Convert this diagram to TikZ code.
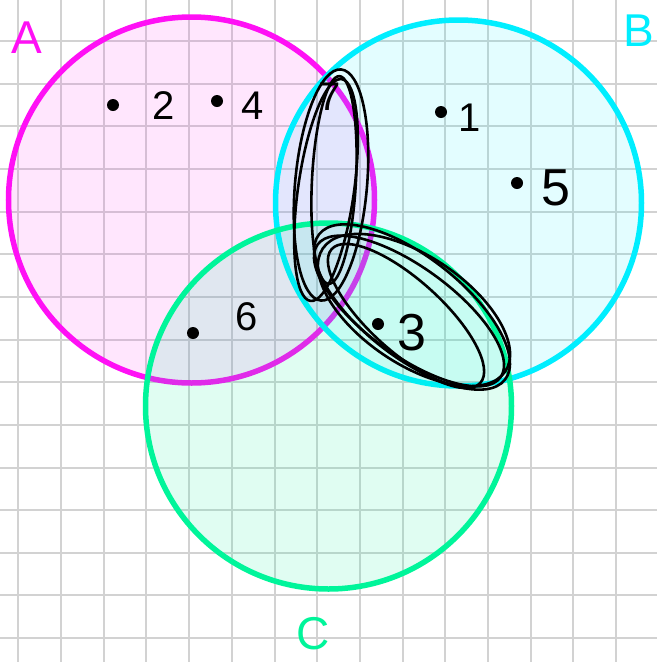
\documentclass[tikz,border=0pt]{standalone}
\usepackage{fontspec}
\setmainfont{Liberation Sans}
\definecolor{gridc}{HTML}{D2D2D2}
\definecolor{setA}{HTML}{FF10F5}
\definecolor{setB}{HTML}{00EEFF}
\definecolor{setC}{HTML}{00F59A}
\begin{document}
\begin{tikzpicture}[x=1pt,y=-1pt,
  gridline/.style={draw=gridc,line width=2pt},
  setcircle/.style={circle,inner sep=0pt,minimum size=366pt,line width=5.5pt},
  elemdot/.style={circle,fill=black,inner sep=0pt,minimum size=12pt},
  elemlbl/.style={font=\fontsize{40}{40}\selectfont,inner sep=0pt},
  biglbl/.style={font=\fontsize{52}{52}\selectfont,inner sep=0pt},
  setlbl/.style={font=\fontsize{46}{46}\selectfont,inner sep=0pt},
  scribble/.style={draw=black,line width=2.6pt}]
\useasboundingbox (0,0) rectangle (657,662);
\fill[white] (0,0) rectangle (657,662);
\foreach \i in {0,...,14}{
  \draw[gridline] ({18.3+42.7*\i},0) -- ({18.3+42.7*\i},662);
  \draw[gridline] (0,{41+42.65*\i}) -- (657,{41+42.65*\i});
}
\node[setcircle,draw=setA,fill=setA,fill opacity=0.1,draw opacity=1] (A) at (191.5,200) {};
\node[setcircle,draw=setB,fill=setB,fill opacity=0.11,draw opacity=1] (B) at (458.5,203) {};
\node[setcircle,draw=setC,fill=setC,fill opacity=0.12,draw opacity=1] (C) at (328.5,406) {};
\node[setlbl,text=setA] (lA) at (27,38) {A};
\node[setlbl,text=setB] (lB) at (639,31) {B};
\node[setlbl,text=setC] (lC) at (313,634) {C};
% elements
\node[elemdot] (d2) at (113,105) {};
\node[elemlbl] (t2) at (164,106) {2};
\node[elemdot] (d4) at (217,101) {};
\node[elemlbl] (t4) at (253,106) {4};
\node[elemdot] (d1) at (441,112) {};
\node[elemlbl] (t1) at (470,118) {1};
\node[elemdot] (d5) at (517,183) {};
\node[biglbl] (t5) at (556,188) {5};
\node[elemdot] (d6) at (193,333) {};
\node[elemlbl] (t6) at (247,317) {6};
\node[elemdot] (d3) at (378,324) {};
\node[biglbl] (t3) at (412,333) {3};
\node[elemlbl] (t7) at (330,97) {7};
% scribbled loops
\draw[scribble,rotate around={-5:(331,185)}] (331,185) ellipse [x radius=36, y radius=116];
\draw[scribble,rotate around={-8:(326,190)}] (326,190) ellipse [x radius=28, y radius=112];
\draw[scribble,rotate around={-3:(334,180)}] (334,180) ellipse [x radius=22, y radius=104];
\draw[scribble,rotate around={-38:(412,307)}] (412,307) ellipse [x radius=118, y radius=50];
\draw[scribble,rotate around={-36:(409,311)}] (409,311) ellipse [x radius=113, y radius=44];
\draw[scribble,rotate around={-42:(406,316)}] (406,316) ellipse [x radius=100, y radius=36];
\draw[scribble,rotate around={-34:(414,310)}] (414,310) ellipse [x radius=110, y radius=54];
\end{tikzpicture}
\end{document}
